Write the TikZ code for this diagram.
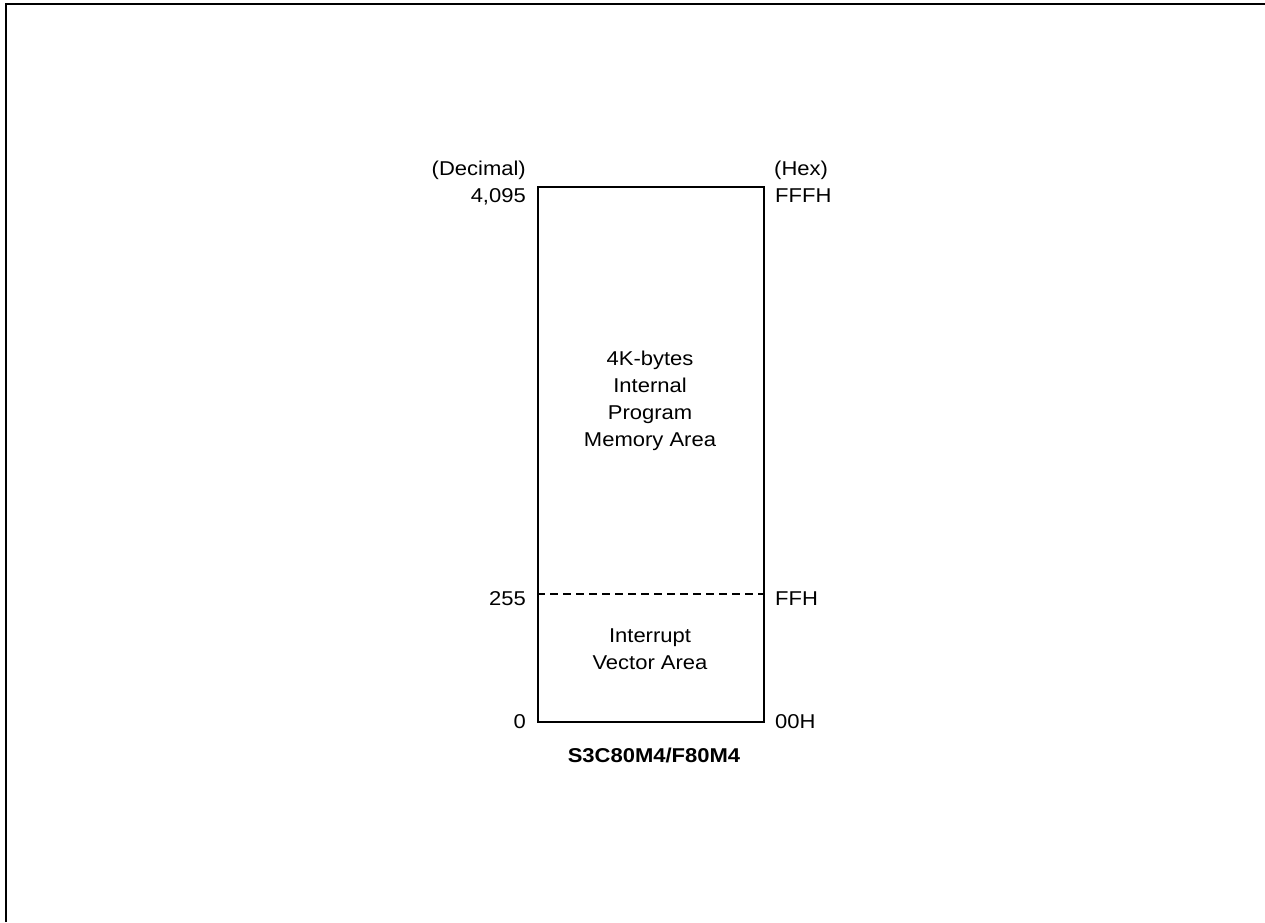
\documentclass[tikz,border=0pt]{standalone}
\usepackage{fontspec}
\setmainfont{Liberation Sans}[FakeStretch=1.1]
\usetikzlibrary{positioning}

\begin{document}
\begin{tikzpicture}[x=1pt, y=-1pt,
            memblock/.style={draw, rectangle, line width=1.6pt, minimum width=226pt, minimum height=535pt, inner sep=0pt},
            addr/.style={inner sep=0pt, font=\fontsize{20}{27}\selectfont},
            area/.style={inner sep=0pt, align=center, font=\fontsize{20}{27}\selectfont},
            sep/.style={line width=1.2pt, dash pattern=on 8pt off 5pt}
        ]
            \useasboundingbox (0,0) rectangle (1265,922);
            \draw [line width=2.5pt] (6,922) -- (6,4) -- (1265,4);

            \node (mem) [memblock, anchor=north west] at (537,186) {};
            \coordinate (split) at (537,594);
            \draw [sep] (mem.west |- split) -- (mem.east |- split);

            \node (upper) [area] at (650,401) {4K-bytes\\Internal\\Program\\Memory Area};
            \node (lower) [area] at (650,649) {Interrupt\\Vector Area};

            \node (dec) [addr, anchor=base east] at (526,175) {(Decimal)};
            \node (hex) [addr, anchor=base west] at (774,175) {(Hex)};
            \node (dtop) [addr, anchor=base east] at (526,202) {4,095};
            \node (htop) [addr, anchor=base west] at (775,202) {FFFH};
            \node (dsplit) [addr, anchor=base east] at (526,605) {255};
            \node (hsplit) [addr, anchor=base west] at (775,605) {FFH};
            \node (dbot) [addr, anchor=base east] at (526,728) {0};
            \node (hbot) [addr, anchor=base west] at (775,728) {00H};

            \node (chip) [addr, anchor=base, font=\fontsize{20}{27}\selectfont\bfseries] at (654,762) {S3C80M4/F80M4};
        \end{tikzpicture}
\end{document}
